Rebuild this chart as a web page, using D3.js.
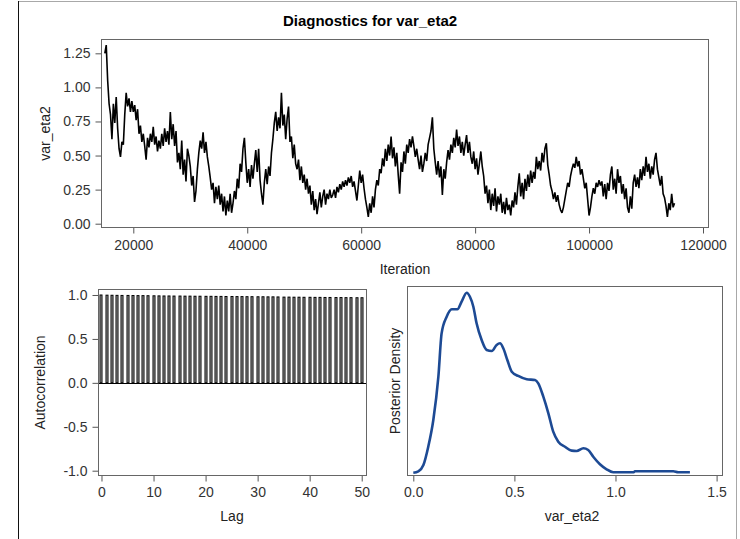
<!DOCTYPE html>
<html>
<head>
<meta charset="utf-8">
<script src="https://cdn.jsdelivr.net/npm/d3@7"></script>
<style>
  body { margin: 0; background: #fff; }
  svg { display: block; font-family: "Liberation Sans", Arial, sans-serif; }
  .axis .tick text { fill: #333; font-size: 14px; }
  .axis .tick line { stroke: #555; }
  .axis-label { fill: #222; font-size: 14px; }
</style>
</head>
<body>
<svg id="chart" width="740" height="539"></svg>
<script>
// ---- Trace of var_eta2 (one sample every 250 iterations) ----
const traceStart = 15000;
const traceStep = 250;
const traceValues = [
  1.25, 1.31, 1.05, 0.88, 0.80, 0.62, 0.88, 0.74, 0.93, 0.70, 0.55, 0.49, 0.60, 0.58, 0.80, 0.96, 0.86, 0.92, 0.82, 0.90,
  0.82, 0.87, 0.76, 0.84, 0.66, 0.72, 0.60, 0.66, 0.57, 0.47, 0.63, 0.56, 0.66, 0.60, 0.71, 0.58, 0.64, 0.53, 0.61, 0.55,
  0.66, 0.57, 0.70, 0.60, 0.68, 0.58, 0.82, 0.62, 0.73, 0.57, 0.68, 0.45, 0.52, 0.40, 0.61, 0.36, 0.47, 0.31, 0.55, 0.50,
  0.42, 0.28, 0.35, 0.16, 0.24, 0.40, 0.52, 0.61, 0.55, 0.67, 0.52, 0.60, 0.49, 0.42, 0.34, 0.25, 0.30, 0.15, 0.27, 0.18,
  0.28, 0.14, 0.22, 0.09, 0.20, 0.06, 0.17, 0.09, 0.22, 0.08, 0.15, 0.24, 0.18, 0.33, 0.26, 0.44, 0.38, 0.55, 0.63, 0.45,
  0.30, 0.40, 0.27, 0.43, 0.33, 0.44, 0.54, 0.38, 0.55, 0.32, 0.22, 0.14, 0.30, 0.40, 0.29, 0.42, 0.35, 0.52, 0.62, 0.74,
  0.82, 0.68, 0.78, 0.70, 0.96, 0.72, 0.80, 0.62, 0.77, 0.86, 0.60, 0.64, 0.48, 0.58, 0.44, 0.40, 0.47, 0.32, 0.42, 0.30,
  0.36, 0.25, 0.33, 0.22, 0.28, 0.14, 0.24, 0.10, 0.18, 0.07, 0.15, 0.23, 0.12, 0.20, 0.25, 0.14, 0.22, 0.18, 0.25, 0.19,
  0.21, 0.25, 0.19, 0.27, 0.23, 0.29, 0.25, 0.31, 0.27, 0.32, 0.28, 0.34, 0.30, 0.35, 0.27, 0.31, 0.24, 0.17, 0.28, 0.39,
  0.30, 0.36, 0.26, 0.18, 0.12, 0.05, 0.15, 0.08, 0.20, 0.12, 0.25, 0.32, 0.28, 0.40, 0.37, 0.48, 0.42, 0.55, 0.46, 0.58,
  0.50, 0.64, 0.48, 0.56, 0.42, 0.52, 0.36, 0.22, 0.45, 0.38, 0.53, 0.44, 0.58, 0.52, 0.62, 0.56, 0.64, 0.57, 0.49, 0.55,
  0.47, 0.40, 0.50, 0.38, 0.44, 0.52, 0.46, 0.58, 0.63, 0.68, 0.78, 0.55, 0.45, 0.36, 0.46, 0.34, 0.42, 0.21, 0.40, 0.33,
  0.45, 0.54, 0.47, 0.58, 0.52, 0.63, 0.56, 0.69, 0.57, 0.64, 0.52, 0.60, 0.50, 0.58, 0.65, 0.52, 0.60, 0.49, 0.44, 0.53,
  0.40, 0.48, 0.36, 0.44, 0.53, 0.42, 0.35, 0.22, 0.28, 0.15, 0.25, 0.10, 0.22, 0.13, 0.26, 0.09, 0.20, 0.14, 0.22, 0.08,
  0.16, 0.07, 0.19, 0.10, 0.14, 0.06, 0.17, 0.12, 0.23, 0.14, 0.27, 0.37, 0.20, 0.30, 0.18, 0.33, 0.24, 0.36, 0.27, 0.39,
  0.30, 0.38, 0.33, 0.49, 0.40, 0.46, 0.39, 0.52, 0.45, 0.55, 0.59, 0.43, 0.36, 0.28, 0.24, 0.18, 0.23, 0.16, 0.21, 0.14,
  0.10, 0.08, 0.12, 0.18, 0.24, 0.30, 0.27, 0.35, 0.40, 0.44, 0.41, 0.49, 0.42, 0.46, 0.36, 0.40, 0.33, 0.26, 0.30, 0.18,
  0.06, 0.12, 0.20, 0.26, 0.22, 0.30, 0.27, 0.32, 0.28, 0.31, 0.20, 0.29, 0.18, 0.30, 0.24, 0.36, 0.42, 0.25, 0.33, 0.22,
  0.40, 0.30, 0.35, 0.22, 0.29, 0.18, 0.26, 0.12, 0.08, 0.20, 0.11, 0.30, 0.36, 0.27, 0.34, 0.26, 0.40, 0.32, 0.42, 0.35,
  0.49, 0.38, 0.44, 0.33, 0.42, 0.36, 0.47, 0.52, 0.40, 0.34, 0.28, 0.35, 0.22, 0.19, 0.13, 0.05, 0.15, 0.10, 0.22, 0.12,
  0.15
];
const traceXTicks = [20000, 40000, 60000, 80000, 100000, 120000];
const traceYTicks = [0, 0.25, 0.5, 0.75, 1.0, 1.25];

// ---- Autocorrelation by lag ----
const acfLags = d3.range(0, 51);
const acfValues = [
  1.000,
  0.998, 0.997, 0.996, 0.995, 0.995, 0.994, 0.993, 0.993, 0.992, 0.991,
  0.990, 0.989, 0.989, 0.988, 0.988, 0.987, 0.987, 0.986, 0.986, 0.985,
  0.985, 0.984, 0.984, 0.983, 0.983, 0.982, 0.982, 0.981, 0.981, 0.980,
  0.980, 0.979, 0.979, 0.978,
  0.976, 0.976, 0.975, 0.975, 0.974, 0.974, 0.973, 0.973, 0.972, 0.972,
  0.971, 0.971, 0.970, 0.970, 0.969, 0.969
];
const acfXTicks = [0, 10, 20, 30, 40, 50];
const acfYTicks = [-1, -0.5, 0, 0.5, 1];

// ---- Kernel density of the posterior sample ----
const densityX = [0.000, 0.025, 0.050, 0.074, 0.099, 0.124, 0.140, 0.165, 0.190, 0.218,
  0.239, 0.264, 0.280, 0.297, 0.313, 0.338, 0.363, 0.388, 0.412, 0.429,
  0.445, 0.465, 0.487, 0.519, 0.561, 0.602, 0.618, 0.643, 0.668, 0.692,
  0.717, 0.750, 0.783, 0.808, 0.841, 0.865, 0.890, 0.923, 0.956, 0.989,
  1.090, 1.096, 1.286, 1.310, 1.368];
const densityY = [0.000, 0.018, 0.098, 0.330, 0.670, 1.220, 1.771, 1.982, 2.076, 2.076,
  2.173, 2.287, 2.236, 2.109, 1.898, 1.686, 1.559, 1.546, 1.623, 1.644,
  1.581, 1.432, 1.283, 1.229, 1.187, 1.178, 1.136, 0.966, 0.755, 0.521,
  0.394, 0.330, 0.280, 0.276, 0.310, 0.288, 0.203, 0.107, 0.043, 0.005,
  0.005, 0.018, 0.018, 0.005, 0.005];
const densityXTicks = [0, 0.5, 1.0, 1.5];

const svg = d3.select("#chart");
const fmt1 = d => d.toFixed(1);

// Outer border of the graph
svg.append("rect")
  .attr("x", 18.5).attr("y", 1.5).attr("width", 718).attr("height", 560)
  .attr("fill", "none").attr("stroke", "#a8a8a8");
svg.append("line")
  .attr("x1", 18.5).attr("x2", 18.5).attr("y1", 1).attr("y2", 539)
  .attr("stroke", "#111");

svg.append("text")
  .attr("x", 370).attr("y", 26)
  .attr("text-anchor", "middle")
  .style("font-size", "15px").style("font-weight", "bold").attr("fill", "#000")
  .text("Diagnostics for var_eta2");

function frame(b) {
  svg.append("rect")
    .attr("x", b.left).attr("y", b.top)
    .attr("width", b.right - b.left).attr("height", b.bottom - b.top)
    .attr("fill", "none").attr("stroke", "#666");
}
function tidy(g) { g.select(".domain").remove(); g.attr("class", "axis"); }

// ===== Trace plot =====
const tb = { left: 101.5, right: 708.5, top: 39.5, bottom: 227.5 };
const tx = d3.scaleLinear().domain([14418, 120965]).range([tb.left, tb.right]);
const ty = d3.scaleLinear().domain([-0.0279, 1.3514]).range([tb.bottom, tb.top]);

svg.append("g").attr("transform", `translate(0,${tb.bottom})`)
  .call(d3.axisBottom(tx).tickValues(traceXTicks).tickFormat(d3.format("d")).tickSize(6).tickPadding(7))
  .call(tidy);
svg.append("g").attr("transform", `translate(${tb.left},0)`)
  .call(d3.axisLeft(ty).tickValues(traceYTicks).tickFormat(d3.format(".2f")).tickSize(6).tickPadding(5))
  .call(tidy);

svg.append("path")
  .datum(traceValues)
  .attr("fill", "none").attr("stroke", "#000").attr("stroke-width", 1.6)
  .attr("stroke-linejoin", "miter").attr("stroke-miterlimit", 2)
  .attr("d", d3.line().x((d, i) => tx(traceStart + i * traceStep)).y(d => ty(d)));
frame(tb);

svg.append("text").attr("class", "axis-label")
  .attr("x", (tb.left + tb.right) / 2).attr("y", 274).attr("text-anchor", "middle")
  .text("Iteration");
svg.append("text").attr("class", "axis-label")
  .attr("transform", `translate(50,${(tb.top + tb.bottom) / 2}) rotate(-90)`)
  .attr("text-anchor", "middle")
  .text("var_eta2");

// ===== Autocorrelation plot =====
const ab = { left: 98.5, right: 366.5, top: 289.5, bottom: 475.5 };
const ax = d3.scaleLinear().domain([-0.576, 50.92]).range([ab.left, ab.right]);
const ay = d3.scaleLinear().domain([-1.0547, 1.0626]).range([ab.bottom, ab.top]);

svg.append("g").attr("transform", `translate(0,${ab.bottom})`)
  .call(d3.axisBottom(ax).tickValues(acfXTicks).tickFormat(d3.format("d")).tickSize(6).tickPadding(6))
  .call(tidy);
svg.append("g").attr("transform", `translate(${ab.left},0)`)
  .call(d3.axisLeft(ay).tickValues(acfYTicks).tickFormat(fmt1).tickSize(6).tickPadding(5))
  .call(tidy);

svg.append("g").selectAll("rect")
  .data(acfLags)
  .join("rect")
  .attr("x", d => Math.round(ax(d)) - 1)
  .attr("width", 2)
  .attr("y", (d, i) => ay(acfValues[i]))
  .attr("height", (d, i) => ay(0) - ay(acfValues[i]))
  .attr("fill", "#a8a8a8").attr("stroke", "#000").attr("stroke-width", 1);

svg.append("line")
  .attr("x1", ab.left).attr("x2", ab.right)
  .attr("y1", Math.round(ay(0)) + 0.5).attr("y2", Math.round(ay(0)) + 0.5)
  .attr("stroke", "#000");
frame(ab);

svg.append("text").attr("class", "axis-label")
  .attr("x", 232).attr("y", 521).attr("text-anchor", "middle")
  .text("Lag");
svg.append("text").attr("class", "axis-label")
  .attr("transform", `translate(45,${(ab.top + ab.bottom) / 2}) rotate(-90)`)
  .attr("text-anchor", "middle")
  .text("Autocorrelation");

// ===== Posterior density plot =====
const db = { left: 407.5, right: 722.5, top: 286.5, bottom: 475.5 };
const dx = d3.scaleLinear().domain([-0.0287, 1.5292]).range([db.left, db.right]);
const dy = d3.scaleLinear().domain([-0.0356, 2.366]).range([db.bottom, db.top]);

svg.append("g").attr("transform", `translate(0,${db.bottom})`)
  .call(d3.axisBottom(dx).tickValues(densityXTicks).tickFormat(fmt1).tickSize(6).tickPadding(6))
  .call(tidy);

svg.append("path")
  .datum(densityX.map((v, i) => [v, densityY[i]]))
  .attr("fill", "none").attr("stroke", "#1d4a94").attr("stroke-width", 2.6)
  .attr("stroke-linejoin", "round")
  .attr("d", d3.line().curve(d3.curveMonotoneX).x(d => dx(d[0])).y(d => dy(d[1])));
frame(db);

svg.append("text").attr("class", "axis-label")
  .attr("x", 572).attr("y", 521).attr("text-anchor", "middle")
  .text("var_eta2");
svg.append("text").attr("class", "axis-label")
  .attr("transform", `translate(400,${(db.top + db.bottom) / 2}) rotate(-90)`)
  .attr("text-anchor", "middle")
  .text("Posterior Density");
</script>
</body>
</html>
